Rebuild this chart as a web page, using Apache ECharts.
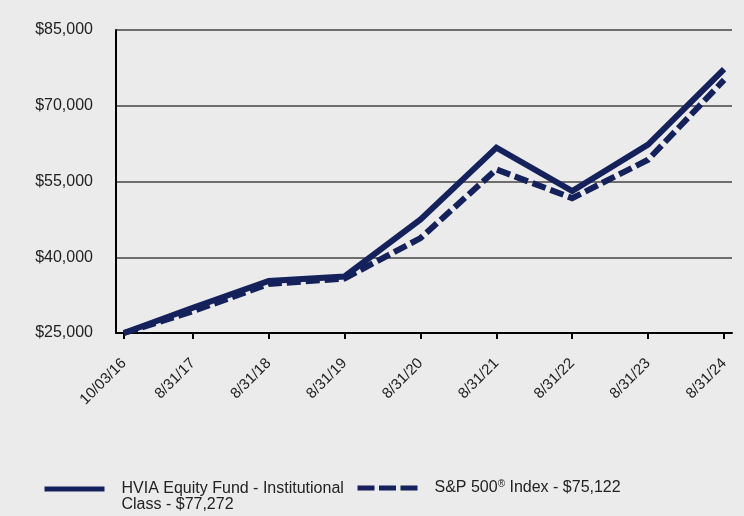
<!DOCTYPE html>
<html>
<head>
<meta charset="utf-8">
<script src="https://cdn.jsdelivr.net/npm/echarts@6/dist/echarts.min.js"></script>
<style>
html,body{margin:0;padding:0;background:#ebebeb;}
#chart{width:744px;height:516px;}
</style>
</head>
<body>
<div id="chart"></div>
<script>
var dates = ['2016-10-03','2017-08-31','2018-08-31','2019-08-31','2020-08-31','2021-08-31','2022-08-31','2023-08-31','2024-08-31'];
var tickLabels = ['10/03/16','8/31/17','8/31/18','8/31/19','8/31/20','8/31/21','8/31/22','8/31/23','8/31/24'];
var fundValues = [25000, 30000, 35300, 36200, 47500, 61700, 53100, 62300, 77272];
var indexValues = [25000, 29300, 34700, 35800, 43800, 57400, 51700, 59300, 75122];
var yTicks = [25000, 40000, 55000, 70000, 85000];
var fundName = 'HVIA Equity Fund - Institutional Class - $77,272';
var indexName = 'S&P 500® Index - $75,122';

function dayNum(d){var p=d.split('-');return Math.round(Date.UTC(+p[0],+p[1]-1,+p[2])/86400000);}
var xs = dates.map(dayNum);
var xMin = xs[0] - 38;
var xMax = xs[xs.length-1] + 38;

var FONT = 'Liberation Sans, Arial, sans-serif';
var navy = '#15215b';
var chart = echarts.init(document.getElementById('chart'));
chart.setOption({
  backgroundColor: '#ebebeb',
  animation: false,
  textStyle: {fontFamily: FONT},
  grid: {left: 116, right: 12, top: 30, bottom: 183, containLabel: false},
  xAxis: {
    type: 'value',
    min: xMin, max: xMax,
    axisLine: {show: true, onZero: false, lineStyle: {color: '#000', width: 2}},
    axisTick: {show: true, customValues: xs, length: 6, lineStyle: {color: '#000', width: 2}},
    axisLabel: {
      customValues: xs, rotate: 45, fontSize: 15, color: '#222', margin: 28,
      fontFamily: FONT,
      formatter: function(v){var i=xs.indexOf(v);return i>=0?tickLabels[i]:'';}
    },
    splitLine: {show: false}
  },
  yAxis: {
    type: 'value',
    min: yTicks[0], max: yTicks[yTicks.length-1], interval: yTicks[1]-yTicks[0],
    axisLine: {show: true, lineStyle: {color: '#000', width: 2}},
    axisTick: {show: false},
    axisLabel: {
      fontSize: 16, color: '#222', margin: 23,
      fontFamily: FONT,
      formatter: function(v){return '$' + v.toLocaleString('en-US');}
    },
    splitLine: {show: true, lineStyle: {color: '#444', width: 1.5}}
  },
  legend: [
    {
      left: 42, top: 465, padding: 0, itemWidth: 60, itemHeight: 14, itemGap: 0,
      data: [fundName],
      lineStyle: {width: 5},
      itemStyle: {opacity: 0},
      formatter: function(){return '\nHVIA Equity Fund - Institutional\nClass - $77,272';},
      textStyle: {fontSize: 16, color: '#222', lineHeight: 16, padding: [0,0,0,12], fontFamily: FONT}
    },
    {
      left: 355, top: 479, padding: 0, itemWidth: 60, itemHeight: 14,
      data: [indexName],
      lineStyle: {width: 5, type: [17,4.5]},
      itemStyle: {opacity: 0},
      formatter: function(){return '{a|S&P 500}{s|®}{a| Index - $75,122}';},
      textStyle: {
        fontSize: 16, color: '#222', padding: [0,0,0,12], fontFamily: FONT,
        rich: {
          a: {fontSize: 16, color: '#222', lineHeight: 18, fontFamily: FONT},
          s: {fontSize: 10, color: '#222', verticalAlign: 'top', lineHeight: 10, fontFamily: FONT}
        }
      }
    }
  ],
  series: [
    {
      name: indexName, type: 'line', symbol: 'none',
      data: xs.map(function(t,i){return [t, indexValues[i]];}),
      lineStyle: {color: navy, width: 6, type: [14,5], join: 'miter', cap: 'butt'},
      itemStyle: {color: navy}
    },
    {
      name: fundName, type: 'line', symbol: 'none',
      data: xs.map(function(t,i){return [t, fundValues[i]];}),
      lineStyle: {color: navy, width: 6, join: 'miter', cap: 'butt'},
      itemStyle: {color: navy}
    }
  ]
});
</script>
</body>
</html>
